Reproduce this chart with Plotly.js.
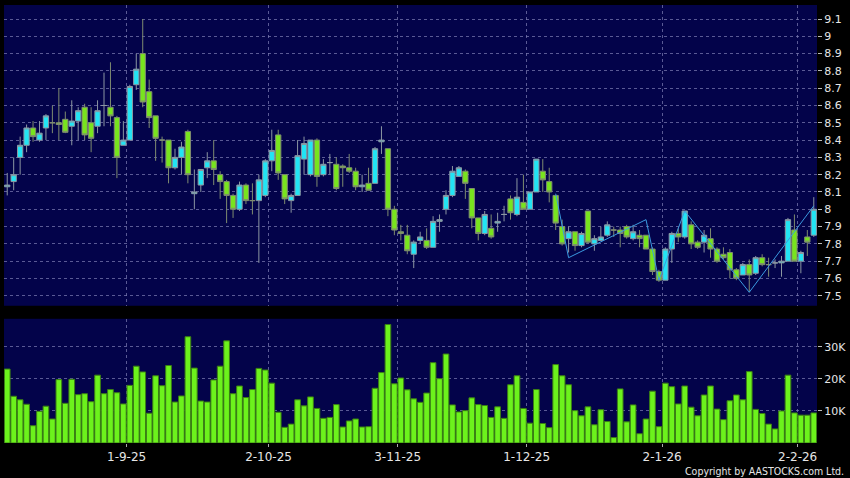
<!DOCTYPE html>
<html><head><meta charset="utf-8">
<script src="https://cdn.plot.ly/plotly-3.0.1.min.js"></script>
<style>html,body{margin:0;padding:0;background:#000;}#chart{width:850px;height:478px;}</style>
</head><body><div id="chart"></div>
<script>
const dates = [
'2025-08-05','2025-08-06','2025-08-07','2025-08-08','2025-08-11','2025-08-12','2025-08-13','2025-08-14','2025-08-15','2025-08-18',
'2025-08-19','2025-08-20','2025-08-21','2025-08-22','2025-08-25','2025-08-26','2025-08-27','2025-08-28','2025-08-29',
'2025-09-01','2025-09-02','2025-09-03','2025-09-04','2025-09-05','2025-09-08','2025-09-09','2025-09-10','2025-09-11','2025-09-12',
'2025-09-15','2025-09-16','2025-09-17','2025-09-18','2025-09-19','2025-09-22','2025-09-23','2025-09-24','2025-09-25','2025-09-26',
'2025-09-29','2025-09-30',
'2025-10-02','2025-10-03','2025-10-06','2025-10-08','2025-10-09','2025-10-10','2025-10-13','2025-10-14','2025-10-15','2025-10-16',
'2025-10-17','2025-10-20','2025-10-21','2025-10-22','2025-10-23','2025-10-24','2025-10-27','2025-10-28','2025-10-30','2025-10-31',
'2025-11-03','2025-11-04','2025-11-05','2025-11-06','2025-11-07','2025-11-10','2025-11-11','2025-11-12','2025-11-13','2025-11-14',
'2025-11-17','2025-11-18','2025-11-19','2025-11-20','2025-11-21','2025-11-24','2025-11-25','2025-11-26','2025-11-27','2025-11-28',
'2025-12-01','2025-12-02','2025-12-03','2025-12-04','2025-12-05','2025-12-08','2025-12-09','2025-12-10','2025-12-11','2025-12-12',
'2025-12-15','2025-12-16','2025-12-17','2025-12-18','2025-12-19','2025-12-22','2025-12-23','2025-12-24','2025-12-29','2025-12-30',
'2025-12-31',
'2026-01-02','2026-01-05','2026-01-06','2026-01-07','2026-01-08','2026-01-09','2026-01-12','2026-01-13','2026-01-14','2026-01-15',
'2026-01-16','2026-01-19','2026-01-20','2026-01-21','2026-01-22','2026-01-23','2026-01-26','2026-01-27','2026-01-28','2026-01-29',
'2026-01-30',
'2026-02-02','2026-02-03','2026-02-04'
];
const openP = [
8.13,8.16,8.30,8.37,8.47,8.40,8.47,8.50,8.50,8.52,
8.48,8.51,8.59,8.50,8.48,8.60,8.59,8.53,8.37,8.40,
8.72,8.90,8.68,8.54,8.40,8.40,8.24,8.30,8.45,8.09,
8.14,8.24,8.28,8.20,8.16,8.08,8.00,8.14,8.05,8.05,
8.08,8.28,8.43,8.20,8.05,8.08,8.29,8.20,8.40,8.20,
8.27,8.26,8.25,8.24,8.22,8.13,8.15,8.15,8.39,8.35,
8.00,7.87,7.85,7.74,7.82,7.82,7.78,7.93,8.00,8.08,
8.19,8.22,8.12,7.95,7.86,7.89,7.92,7.97,8.06,7.97,
8.04,8.00,8.10,8.22,8.16,8.08,7.90,7.83,7.87,7.79,
7.99,7.80,7.82,7.85,7.88,7.88,7.90,7.83,7.85,7.85,
7.77,7.64,7.59,7.77,7.86,7.84,7.91,7.81,7.81,7.83,
7.77,7.74,7.75,7.65,7.62,7.68,7.63,7.72,7.68,7.69,
7.69,7.70,7.88,7.70,7.84,7.85
];
const highP = [
8.21,8.30,8.42,8.49,8.51,8.51,8.55,8.60,8.70,8.565,
8.63,8.59,8.61,8.59,8.63,8.79,8.85,8.54,8.51,8.72,
8.90,9.10,8.75,8.54,8.42,8.40,8.35,8.39,8.46,8.23,
8.23,8.33,8.40,8.22,8.17,8.09,8.16,8.15,8.15,8.20,
8.29,8.46,8.46,8.20,8.09,8.40,8.42,8.40,8.41,8.29,
8.32,8.30,8.26,8.32,8.24,8.20,8.24,8.36,8.48,8.35,
8.02,7.91,7.91,7.82,7.87,7.89,7.96,7.97,8.11,8.25,
8.25,8.23,8.12,7.95,7.99,7.97,7.98,8.02,8.08,8.18,
8.20,8.10,8.29,8.29,8.24,8.08,7.94,7.90,7.87,7.87,
7.99,7.85,7.90,7.93,7.90,7.90,7.91,7.91,7.88,7.85,
7.78,7.65,7.78,7.87,7.89,7.99,7.93,7.82,7.88,7.89,
7.78,7.78,7.77,7.66,7.69,7.71,7.73,7.74,7.72,7.71,
7.73,7.95,7.97,7.76,7.88,8.07
];
const lowP = [
8.08,8.11,8.20,8.33,8.39,8.39,8.40,8.44,8.40,8.44,
8.37,8.40,8.40,8.33,8.44,8.48,8.48,8.18,8.37,8.40,
8.69,8.59,8.47,8.28,8.27,8.15,8.23,8.20,8.15,8.00,
8.10,8.18,8.14,8.06,7.92,7.95,7.99,8.03,7.97,7.69,
8.07,8.22,8.17,8.03,7.98,8.08,8.20,8.19,8.13,8.19,
8.20,8.11,8.13,8.21,8.11,8.10,8.11,8.15,8.32,7.96,
7.85,7.82,7.74,7.66,7.80,7.77,7.78,7.87,7.97,8.07,
8.19,8.06,7.89,7.82,7.85,7.83,7.87,7.93,7.94,7.96,
8.00,8.00,8.10,8.10,8.04,7.88,7.79,7.75,7.76,7.78,
7.80,7.76,7.82,7.84,7.84,7.78,7.83,7.82,7.78,7.77,
7.62,7.58,7.59,7.69,7.81,7.83,7.77,7.77,7.75,7.72,
7.69,7.71,7.60,7.59,7.62,7.52,7.62,7.67,7.61,7.66,
7.61,7.70,7.70,7.63,7.73,7.84
];
const closeP = [
8.14,8.20,8.37,8.47,8.42,8.44,8.54,8.50,8.49,8.445,
8.51,8.57,8.43,8.41,8.57,8.60,8.54,8.30,8.40,8.71,
8.81,8.62,8.53,8.41,8.40,8.24,8.30,8.36,8.20,8.10,
8.23,8.28,8.23,8.16,8.08,8.00,8.14,8.05,8.05,8.17,
8.28,8.34,8.21,8.06,8.08,8.31,8.38,8.40,8.19,8.26,
8.27,8.12,8.24,8.22,8.13,8.14,8.11,8.35,8.40,8.00,
7.88,7.86,7.76,7.81,7.84,7.78,7.93,7.94,8.08,8.22,
8.24,8.15,7.95,7.86,7.97,7.84,7.93,7.97,7.98,8.07,
8.00,8.10,8.29,8.17,8.10,7.92,7.80,7.87,7.79,7.86,
7.81,7.83,7.84,7.91,7.88,7.86,7.84,7.87,7.83,7.77,
7.64,7.59,7.77,7.86,7.84,7.99,7.80,7.78,7.85,7.77,
7.70,7.72,7.65,7.60,7.68,7.62,7.72,7.68,7.68,7.69,
7.70,7.94,7.70,7.75,7.81,8.00
];
const volume = [
23100,14600,13500,12100,5400,9900,11500,7500,19800,12400,
19900,15100,15400,12900,21200,15400,16700,15700,12200,18000,
24000,22200,9300,21000,17900,24200,12800,14700,33200,23400,
13100,12800,19700,24000,31900,15400,17800,14200,16700,23300,
22800,18700,9600,4900,5900,13500,11600,14400,10800,7700,
8000,12000,5000,6900,7500,5000,5100,17100,22000,37000,
18500,20300,16600,13800,12700,15600,25100,20100,27800,11900,
9700,10100,14100,12000,11700,8000,11300,7700,18200,21000,
10800,6200,16700,6100,4800,24500,21000,18200,10100,8500,
11300,5700,10400,6700,1700,16900,6600,11900,2900,7500,
16200,5100,18700,17600,12200,17800,11200,8500,15000,17800,
10600,7300,13200,15000,13500,22300,10500,9200,5900,4400,
10000,21200,9400,8700,8700,9400
];
const tickDates = ['2025-09-01','2025-10-02','2025-11-03','2025-12-01','2026-01-02','2026-02-02'];
const tickLabels = ['1-9-25','2-10-25','3-11-25','1-12-25','2-1-26','2-2-26'];
const zigDates = ['2025-12-05','2025-12-09','2025-12-29','2025-12-31','2026-01-07','2026-01-21','2026-02-04'];
const zigPrices = [8.09,7.72,7.94,7.59,7.99,7.52,8.02];
const priceTicks = [7.5,7.6,7.7,7.8,7.9,8.0,8.1,8.2,8.3,8.4,8.5,8.6,8.7,8.8,8.9,9.0,9.1];
const priceTickLabels = ['7.5','7.6','7.7','7.8','7.9','8','8.1','8.2','8.3','8.4','8.5','8.6','8.7','8.8','8.9','9','9.1'];
const volTicks = [10000,20000,30000];
const volTickLabels = ['10K','20K','30K'];

const idx = dates.map((d,i)=>i);
const pos = d => dates.indexOf(d);
const gridPos = tickDates.map(d => pos(d) - 0.5);
const grid = {showgrid:true, gridcolor:'rgba(120,120,175,0.75)', griddash:'3px,3px', gridwidth:1, zeroline:false, showline:false};
const axFont = {family:'DejaVu Sans', size:11, color:'#e6e6e6'};

const traces = [
  {type:'candlestick', x:idx, open:openP, high:highP, low:lowP, close:closeP, xaxis:'x', yaxis:'y',
   increasing:{line:{color:'#8c97a2', width:1}, fillcolor:'#22e4f4'},
   decreasing:{line:{color:'#7f8c70', width:1}, fillcolor:'#78e41e'},
   whiskerwidth:0, hoverinfo:'skip'},
  {type:'scatter', mode:'lines', x:zigDates.map(pos), y:zigPrices, xaxis:'x', yaxis:'y',
   line:{color:'#3b9ae0', width:1}, hoverinfo:'skip'},
  {type:'bar', x:idx, y:volume, xaxis:'x2', yaxis:'y2',
   marker:{color:'#6cf21c', line:{color:'#3b7f14', width:1}}, hoverinfo:'skip'}
];

const layout = {
  width:850, height:478, margin:{l:4, r:33, t:5, b:35},
  paper_bgcolor:'#000', plot_bgcolor:'#03034a', showlegend:false,
  boxgap:0.18, boxgroupgap:0, bargap:0.12,
  xaxis:Object.assign({domain:[0,1], range:[-0.5,125.5], anchor:'y', tickmode:'array', tickvals:gridPos,
     showticklabels:false, ticks:'', rangeslider:{visible:false}, fixedrange:true}, grid),
  xaxis2:Object.assign({domain:[0,1], range:[-0.5,125.5], anchor:'y2', tickmode:'array', tickvals:gridPos, ticktext:tickLabels,
     ticks:'outside', ticklen:3, tickcolor:'#aaaaaa', tickfont:{family:'DejaVu Sans', size:12, color:'#e6e6e6'}, fixedrange:true}, grid),
  yaxis:Object.assign({domain:[0.3133,1], range:[7.442,9.181], anchor:'x', side:'right', tickmode:'array', tickvals:priceTicks, ticktext:priceTickLabels,
     ticks:'outside', ticklen:4, tickcolor:'#bbbbbb', tickfont:axFont, fixedrange:true}, grid),
  yaxis2:Object.assign({domain:[0,0.2836], range:[0,38800], anchor:'x2', side:'right', tickmode:'array', tickvals:volTicks, ticktext:volTickLabels,
     ticks:'outside', ticklen:4, tickcolor:'#bbbbbb', tickfont:axFont, fixedrange:true}, grid),
  annotations:[{text:'Copyright by AASTOCKS.com Ltd.', xref:'paper', yref:'paper', x:1.0357, y:-0.0648,
     xanchor:'right', yanchor:'middle', showarrow:false, font:{family:'DejaVu Sans Condensed, DejaVu Sans', size:10.5, color:'#e6e6e6'}}]
};
Plotly.newPlot('chart', traces, layout, {staticPlot:true, displayModeBar:false});
</script></body></html>
